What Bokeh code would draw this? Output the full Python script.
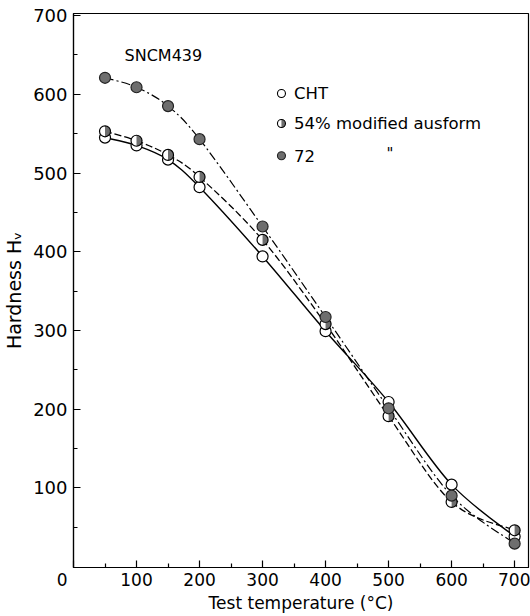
from bokeh.plotting import figure
from bokeh.models import FixedTicker, Range1d, Label
from bokeh.embed import file_html
from bokeh.resources import INLINE
import numpy as np

# ---- data ----
temps = [50, 100, 150, 200, 300, 400, 500, 600, 700]
hv_cht = [545, 535, 517, 482, 394, 299, 209, 104, 38]
hv_54 = [553, 541, 523, 495, 415, 308, 191, 82, 46]
hv_72 = [621, 609, 585, 543, 432, 317, 201, 90, 29]

x_ticks = [0, 100, 200, 300, 400, 500, 600, 700]
x_minor = [50, 150, 250, 350, 450, 550, 650]
y_ticks = [100, 200, 300, 400, 500, 600, 700]
y_minor = [50, 150, 250, 350, 450, 550, 650]

FONT = "DejaVu Sans"
GRAY = "#6e6e6e"

p = figure(width=530, height=616, output_backend="svg", toolbar_location=None,
           x_range=Range1d(0, 722), y_range=Range1d(-1.3, 702.7),
           min_border_left=72, min_border_right=2, min_border_top=13, min_border_bottom=49)
p.grid.visible = False
p.background_fill_color = "white"
p.border_fill_color = "white"
p.outline_line_color = "black"
p.outline_line_width = 1.2

for ax in (p.xaxis[0], p.yaxis[0]):
    ax.axis_line_color = "black"
    ax.axis_line_width = 1.2
    ax.major_tick_in = 7
    ax.major_tick_out = 0
    ax.minor_tick_in = 4
    ax.minor_tick_out = 0
    ax.major_tick_line_width = 1.2
    ax.minor_tick_line_width = 1.2
    ax.major_label_text_font = FONT
    ax.major_label_text_color = "black"
    ax.axis_label_text_font = FONT
    ax.axis_label_text_font_style = "normal"
    ax.axis_label_text_color = "black"

p.xaxis.major_label_text_font_size = "17px"
p.yaxis.major_label_text_font_size = "18px"
p.xaxis.axis_label_text_font_size = "17px"
p.yaxis.axis_label_text_font_size = "19px"
p.xaxis.ticker = FixedTicker(ticks=x_ticks, minor_ticks=x_minor)
p.yaxis.ticker = FixedTicker(ticks=y_ticks, minor_ticks=y_minor)
# the shared origin "0" sits left of the corner, as in the reference
p.xaxis.major_label_overrides = {0: "0\u2003\u2004"}
p.xaxis.major_label_standoff = 2
p.yaxis.major_label_standoff = 6
p.xaxis.axis_label = "Test temperature (°C)"
p.yaxis.axis_label = "Hardness H\u1d65"
p.xaxis.axis_label_standoff = 0
p.yaxis.axis_label_standoff = 5


def smooth(xs, ys):
    """Catmull-Rom segments expressed as cubic Bezier control points."""
    x = np.asarray(xs, float)
    y = np.asarray(ys, float)
    xp = np.concatenate([[x[0]], x, [x[-1]]])
    yp = np.concatenate([[y[0]], y, [y[-1]]])
    n = len(x) - 1
    d = dict(x0=[], y0=[], x1=[], y1=[], cx0=[], cy0=[], cx1=[], cy1=[])
    for i in range(n):
        p0x, p0y = xp[i], yp[i]
        p1x, p1y = xp[i + 1], yp[i + 1]
        p2x, p2y = xp[i + 2], yp[i + 2]
        p3x, p3y = xp[i + 3], yp[i + 3]
        d["x0"].append(p1x); d["y0"].append(p1y)
        d["x1"].append(p2x); d["y1"].append(p2y)
        d["cx0"].append(p1x + (p2x - p0x) / 6); d["cy0"].append(p1y + (p2y - p0y) / 6)
        d["cx1"].append(p2x - (p3x - p1x) / 6); d["cy1"].append(p2y - (p3y - p1y) / 6)
    return d


p.bezier(source=smooth(temps, hv_cht), x0="x0", y0="y0", x1="x1", y1="y1",
         cx0="cx0", cy0="cy0", cx1="cx1", cy1="cy1", line_color="black", line_width=1.4)
p.bezier(source=smooth(temps, hv_54), x0="x0", y0="y0", x1="x1", y1="y1",
         cx0="cx0", cy0="cy0", cx1="cx1", cy1="cy1", line_color="black", line_width=1.3,
         line_dash="7 3")
p.bezier(source=smooth(temps, hv_72), x0="x0", y0="y0", x1="x1", y1="y1",
         cx0="cx0", cy0="cy0", cx1="cx1", cy1="cy1", line_color="black", line_width=1.2,
         line_dash="9 3 2 3")

MS = 11
# CHT: open circles
p.scatter(temps, hv_cht, size=MS, marker="circle", fill_color="white",
          line_color="black", line_width=1.2)
# 54%: half-filled circles
p.scatter(temps, hv_54, size=MS, marker="circle", fill_color="white", line_color=None)
p.wedge(temps, hv_54, radius=MS / 2, radius_units="screen", start_angle=-np.pi / 2,
        end_angle=np.pi / 2, fill_color=GRAY, line_color=None)
p.scatter(temps, hv_54, size=MS, marker="circle", fill_color=None,
          line_color="black", line_width=1.2)
# 72%: filled circles
p.scatter(temps, hv_72, size=MS, marker="circle", fill_color=GRAY,
          line_color="#222222", line_width=1.2)

# ---- annotation / legend ----
p.add_layout(Label(x=81, y=649, text="SNCM439", text_font=FONT, text_font_size="16px",
                   text_align="left", text_baseline="middle", text_color="black"))

legend_rows = [601, 563, 522]
legend_texts = ["CHT", "54% modified ausform", "72"]
lx, tx = 330, 350
LS = 8
p.scatter([lx], [legend_rows[0]], size=LS, marker="circle", fill_color="white",
          line_color="black", line_width=1.1)
p.scatter([lx], [legend_rows[1]], size=LS, marker="circle", fill_color="white", line_color=None)
p.wedge([lx], [legend_rows[1]], radius=LS / 2, radius_units="screen", start_angle=-np.pi / 2,
        end_angle=np.pi / 2, fill_color=GRAY, line_color=None)
p.scatter([lx], [legend_rows[1]], size=LS, marker="circle", fill_color=None,
          line_color="black", line_width=1.1)
p.scatter([lx], [legend_rows[2]], size=LS, marker="circle", fill_color=GRAY,
          line_color="#222222", line_width=1.1)
for yy, t in zip(legend_rows, legend_texts):
    p.add_layout(Label(x=tx, y=yy, text=t, text_font=FONT, text_font_size="16.5px",
                       text_align="left", text_baseline="middle", text_color="black"))
p.add_layout(Label(x=502, y=legend_rows[2] + 2, text='"', text_font=FONT, text_font_size="15px",
                   text_align="center", text_baseline="middle", text_color="black"))

open("out.html", "w").write(file_html(p, INLINE))
